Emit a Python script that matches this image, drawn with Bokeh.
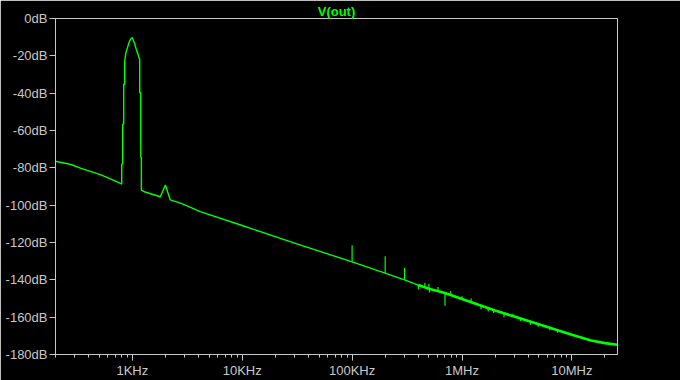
from bokeh.plotting import figure
from bokeh.models import Range1d, FixedTicker
from bokeh.embed import file_html
from bokeh.resources import INLINE

# ---- data (LTspice FFT of V(out)) ----
freq_hz = [200, 277, 342, 519, 640, 778, 801, 801, 818, 818, 835, 835, 853, 853,
           871, 889, 908, 927, 947, 973, 1000, 1015, 1043, 1065, 1088, 1120, 1143,
           1168, 1168, 1193, 1193, 1209, 1209, 1285, 1798, 2000, 2216, 2793, 4151,
           10000, 30000, 100000, 200000, 300000, 400000, 500000, 700000,
           1e6, 2e6, 3e6, 5e6, 10e6, 15e6, 20e6, 26e6]
level_db = [-76.5, -78.2, -80.3, -83.8, -86.0, -88.3, -88.7, -78.0, -78.0, -56.6,
            -56.6, -35.2, -35.2, -22.7, -18.7, -17.0, -15.2, -13.4, -12.0, -10.7,
            -10.2, -11.2, -13.0, -14.8, -16.6, -18.7, -20.5, -21.9, -39.8, -39.8,
            -74.4, -74.4, -91.9, -92.8, -95.5, -89.2, -97.2, -99.0, -103.5,
            -110.9, -120.3, -130.4, -136.4, -140.0, -142.8, -144.8, -147.1,
            -150.3, -156.4, -159.7, -163.8, -169.4, -172.5, -173.9, -174.8]

# harmonic / noise spikes: frequency, level at the trace, level at the tip
spike_hz = [100000, 200000, 300000, 401000, 459000, 500000, 505000, 605000,
            700000, 790000, 1.0e6, 1.21e6, 1.49e6, 1.73e6, 1.94e6, 2.41e6,
            2.91e6, 3.42e6, 4.2e6, 4.94e6, 6.3e6, 7.4e6]
spike_base_db = [-130.4, -136.4, -140.0, -142.8, -144.0, -144.8, -144.9, -146.0,
                 -147.1, -148.3, -150.3, -151.8, -153.8, -155.0, -156.2, -158.0,
                 -159.5, -160.7, -162.3, -163.6, -165.7, -166.9]
spike_tip_db = [-121.5, -127.3, -133.6, -145.0, -141.5, -142.2, -146.8, -143.9,
                -153.9, -146.0, -148.8, -150.0, -155.7, -157.0, -157.8, -160.0,
                -158.2, -162.2, -164.1, -165.2, -167.0, -168.3]

x_tick_values = [1e3, 1e4, 1e5, 1e6, 1e7]
x_tick_labels = ["1KHz", "10KHz", "100KHz", "1MHz", "10MHz"]
y_tick_values = [0, -20, -40, -60, -80, -100, -120, -140, -160, -180]
y_tick_labels = ["0dB", "-20dB", "-40dB", "-60dB", "-80dB", "-100dB",
                 "-120dB", "-140dB", "-160dB", "-180dB"]
title_text = "V(out)"

# ---- styling ----
GRAY = "#c8c8c8"
GREEN = "#00ff00"
FONT = "Liberation Sans"

x_min, x_max = 200, 26e6

p = figure(width=680, height=380, x_axis_type="log",
           x_range=Range1d(x_min, x_max), y_range=Range1d(-180, 0),
           output_backend="svg", toolbar_location=None,
           min_border_left=55, min_border_right=63,
           min_border_top=18, min_border_bottom=25,
           background_fill_color="black", border_fill_color="black",
           title=title_text)
p.title.align = "center"
p.title.text_color = GREEN
p.title.text_font = FONT
p.title.text_font_size = "13px"
p.title.text_font_style = "bold"
p.title.standoff = 0
p.title.offset = 0
p.title.text_line_height = 1.0

p.grid.visible = False
p.outline_line_color = GRAY
p.outline_line_width = 1

minor = [m * 10 ** k for k in range(2, 8) for m in range(2, 10)
         if x_min <= m * 10 ** k <= x_max]
p.xaxis.ticker = FixedTicker(ticks=x_tick_values, minor_ticks=minor)
p.xaxis.major_label_overrides = {v: t for v, t in zip(x_tick_values, x_tick_labels)}
p.yaxis.ticker = FixedTicker(ticks=y_tick_values, minor_ticks=[])
p.yaxis.major_label_overrides = {v: t for v, t in zip(y_tick_values, y_tick_labels)}

for ax in (p.xaxis[0], p.yaxis[0]):
    ax.axis_line_color = GRAY
    ax.major_tick_line_color = GRAY
    ax.minor_tick_line_color = GRAY
    ax.major_tick_in = 0
    ax.major_tick_out = 6
    ax.minor_tick_in = 0
    ax.major_label_text_color = GRAY
    ax.major_label_text_font = FONT
    ax.major_label_text_font_size = "13px"
p.xaxis.minor_tick_out = 3
p.xaxis.major_label_standoff = 2
p.yaxis.minor_tick_out = 0
p.yaxis.major_label_standoff = 2

split = freq_hz.index(400000)
p.line(freq_hz[:split + 1], level_db[:split + 1], line_color=GREEN, line_width=1.4)
p.line(freq_hz[split:], level_db[split:], line_color=GREEN, line_width=2.6)
p.segment(x0=spike_hz, y0=spike_base_db, x1=spike_hz, y1=spike_tip_db,
          line_color=GREEN, line_width=1.2)

open("out.html", "w").write(file_html(p, INLINE))
